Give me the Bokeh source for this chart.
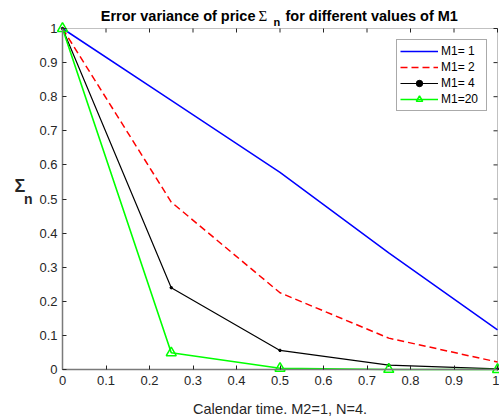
import math
from bokeh.plotting import figure
from bokeh.models import (Range1d, FixedTicker, NumeralTickFormatter,
                          Legend, LegendItem, Label, BoxAnnotation)
from bokeh.embed import file_html
from bokeh.resources import INLINE

# ---- data ----
x_time = [0.0, 0.25, 0.5, 0.75, 1.0]
sigma_m1_1 = [1.0, 0.789, 0.578, 0.342, 0.116]
sigma_m1_2 = [1.0, 0.491, 0.225, 0.092, 0.022]
sigma_m1_4 = [1.0, 0.240, 0.056, 0.013, 0.002]
sigma_m1_20 = [1.0, 0.049, 0.0035, 0.0002, 0.0]
series_labels = ["M1= 1", "M1= 2", "M1= 4", "M1=20"]
x_ticks = [0, 0.1, 0.2, 0.3, 0.4, 0.5, 0.6, 0.7, 0.8, 0.9, 1]
y_ticks = [0, 0.1, 0.2, 0.3, 0.4, 0.5, 0.6, 0.7, 0.8, 0.9, 1]
title_left = "Error variance of price"
title_sym = "\u03a3"
title_sub = "n"
title_right = "for different values of M1"
x_label = "Calendar time. M2=1, N=4."

FONT = "Liberation Sans"
TXT = "#262626"

# ---- layout (pixels on the canvas) ----
W, H = 499, 418
AX_L, AX_R = 62, 497      # canvas x of data 0 and 1
AX_T, AX_B = 28, 369      # canvas y of data 1 and 0
sx = AX_R - AX_L
sy = AX_B - AX_T
x_range = Range1d(-AX_L / sx, 1 + (W - AX_R) / sx)
y_range = Range1d(-(H - AX_B) / sy, 1 + AX_T / sy)

p = figure(width=W, height=H, x_range=x_range, y_range=y_range,
           output_backend="svg", toolbar_location=None,
           min_border=0, min_border_left=0, min_border_right=0,
           min_border_top=0, min_border_bottom=0,
           background_fill_color="white", border_fill_color="white")
p.grid.visible = False
p.outline_line_color = None

# box around the axes
p.add_layout(BoxAnnotation(left=0, right=1, bottom=0, top=1, fill_alpha=0,
                           line_color="#333333", line_width=1, level="underlay"))

p.xaxis.ticker = FixedTicker(ticks=x_ticks)
p.yaxis.ticker = FixedTicker(ticks=y_ticks)
for ax in p.xaxis + p.yaxis:
    ax.fixed_location = 0
    ax.bounds = (0, 1)
    ax.formatter = NumeralTickFormatter(format="0.[0]")
    ax.major_tick_in = 4
    ax.major_tick_out = 0
    ax.minor_tick_line_color = None
    ax.major_tick_line_color = TXT
    ax.major_label_text_font = FONT
    ax.major_label_text_color = TXT
    ax.major_label_text_font_size = "13px"
    ax.axis_line_color = "#7a7a7a"
    ax.axis_line_width = 1.5
p.xaxis.major_label_standoff = 6
p.yaxis.major_label_standoff = 5

# inward ticks on the top and right edges of the box
p.ray(x=x_ticks, y=[1] * len(x_ticks), length=4, length_units="screen",
      angle=-math.pi / 2, line_color=TXT, line_width=1)
p.ray(x=[1] * len(y_ticks), y=y_ticks, length=4, length_units="screen",
      angle=math.pi, line_color=TXT, line_width=1)

# ---- series ----
r1 = p.line(x_time, sigma_m1_1, line_color="blue", line_width=1.5, line_alpha=1.0)
r2 = p.line(x_time, sigma_m1_2, line_color="red", line_width=1.5, line_dash="7 4")
r3 = p.line(x_time, sigma_m1_4, line_color="#000000", line_width=1.2)
r3m = p.scatter(x_time, sigma_m1_4, marker="circle", size=2.5, color="#000000")
r4 = p.line(x_time, sigma_m1_20, line_color="#00ff00", line_width=1.6)
r4m = p.scatter(x_time, sigma_m1_20, marker="triangle", size=10, fill_color=None,
                line_color="#00ff00", line_width=1.5)

legend = Legend(items=[
    LegendItem(label=series_labels[0], renderers=[r1]),
    LegendItem(label=series_labels[1], renderers=[r2]),
    LegendItem(label=series_labels[2], renderers=[r3, r3m]),
    LegendItem(label=series_labels[3], renderers=[r4, r4m]),
], location=(396, H - 111), margin=0, padding=3, spacing=0,
   glyph_width=38, glyph_height=16, label_height=16, label_width=42,
   label_standoff=3, label_text_font=FONT, label_text_font_size="12px",
   label_text_color="#000000", border_line_color="#555555", border_line_width=1,
   background_fill_color="white", background_fill_alpha=1)
p.add_layout(legend, "center")

# ---- texts ----
def lab(text, xo, yo, size, style="normal", font=FONT, align="left", x=0, y=0, color="#000000"):
    p.add_layout(Label(x=x, y=y, x_offset=xo, y_offset=yo, text=text,
                       text_font=font, text_font_size=size, text_font_style=style,
                       text_align=align, text_baseline="alphabetic", text_color=color))

# title
lab(title_left, 193, 354, "14.5px", "bold", align="right")
lab(title_sym, 196, 354, "15px", "normal", font="Liberation Serif")
lab(title_sub, 211, 348, "11px", "bold")
lab(title_right, 223, 354, "14.5px", "bold")

# x label
lab(x_label, 0, -39, "14.5px", "normal", align="center", x=0.5, color=TXT)

# y label  Sigma_n
lab(title_sym, -48, 184, "18px", "bold", color=TXT)
lab(title_sub, -38.5, 170.5, "14px", "bold", color=TXT)

open("out.html", "w").write(file_html(p, INLINE))
